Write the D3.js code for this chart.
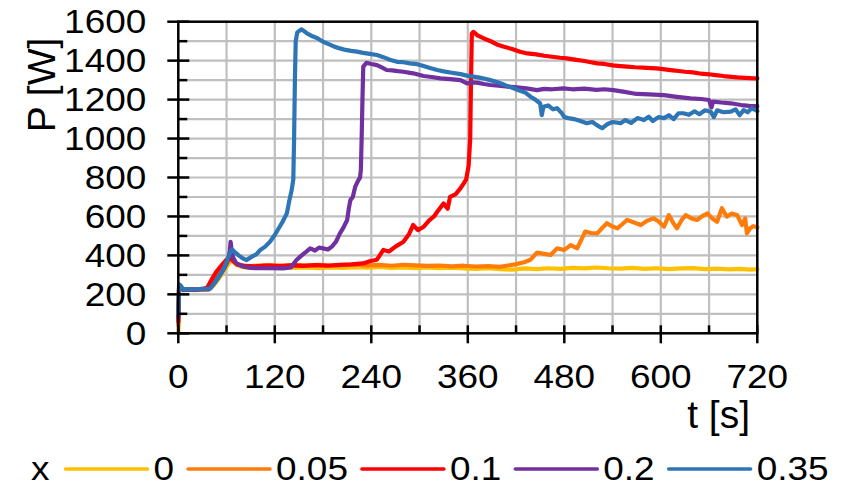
<!DOCTYPE html>
<html>
<head>
<meta charset="utf-8">
<script src="https://cdn.jsdelivr.net/npm/d3@7"></script>
<style>
  body { margin: 0; background: #fff; }
  svg text { font-family: Arial, "Liberation Sans", sans-serif; fill: #000; }
</style>
</head>
<body>
<svg id="chart" width="851" height="487"></svg>
<script>
// legend keys (x fraction) and colours
var series = ["0", "0.05", "0.1", "0.2", "0.35"];
var colors = ["#ffc000", "#ff7c0a", "#ff0000", "#7030a0", "#2e75b6"];

// axis ticks
var tTicks = [0, 120, 240, 360, 480, 600, 720];
var pTicks = [0, 200, 400, 600, 800, 1000, 1200, 1400, 1600];

// [t (s), P (W)]
var powerX0 = [[0,0],[1,230],[3,240],[6,222],[12,224],[20,222],[30,224],[38,226],[45,250],[52,290],[58,330],[63,360],[67,375],[72,352],[80,340],[90,336],[100,338],[115,335],[130,340],[145,336],[160,338],[175,335],[190,339],[205,336],[220,340],[235,337],[250,341],[265,336],[280,339],[295,335],[310,338],[325,334],[340,337],[355,333],[370,331],[385,334],[400,329],[415,327],[430,333],[445,330],[460,334],[475,331],[490,336],[505,333],[520,338],[535,334],[550,332],[565,336],[580,331],[595,334],[610,330],[625,333],[640,335],[655,330],[670,332],[685,328],[700,331],[710,327],[720,329]];

var powerX005 = [[0,40],[1,240],[3,235],[6,222],[12,224],[20,223],[30,225],[38,228],[45,265],[52,310],[58,345],[63,372],[67,380],[72,358],[80,348],[90,345],[100,348],[115,350],[130,346],[145,351],[160,348],[175,352],[190,347],[205,350],[220,353],[235,348],[250,351],[265,347],[280,352],[295,349],[310,346],[325,348],[340,344],[355,347],[370,343],[385,345],[400,341],[410,348],[420,355],[430,365],[438,378],[446,414],[455,408],[463,402],[471,436],[480,428],[488,453],[496,436],[506,522],[513,515],[521,513],[527,540],[533,565],[540,548],[546,539],[552,560],[558,582],[566,570],[575,556],[583,578],[591,590],[597,575],[604,547],[610,607],[615,570],[620,539],[626,582],[631,607],[638,590],[645,582],[651,600],[658,616],[664,590],[670,573],[676,642],[682,599],[688,615],[695,607],[701,556],[705,590],[707,513],[711,539],[715,550],[720,544]];

var powerX01 = [[0,60],[1,250],[3,240],[6,223],[12,225],[20,224],[30,228],[36,235],[42,280],[48,320],[54,350],[60,378],[64,390],[68,372],[74,352],[82,346],[95,344],[110,348],[125,345],[140,349],[155,346],[170,350],[185,347],[200,351],[215,354],[230,359],[238,370],[247,378],[255,428],[262,420],[270,445],[280,470],[287,510],[292,556],[298,530],[305,547],[312,580],[318,600],[322,624],[330,667],[335,640],[338,701],[345,715],[350,740],[355,770],[358,790],[361,860],[363,1000],[364,1300],[365,1540],[367,1548],[372,1530],[380,1514],[390,1497],[398,1480],[405,1471],[415,1460],[425,1446],[434,1437],[445,1432],[455,1425],[465,1420],[475,1415],[483,1412],[495,1404],[505,1398],[513,1392],[521,1386],[530,1383],[540,1376],[550,1372],[558,1369],[568,1366],[578,1364],[588,1362],[595,1360],[605,1355],[615,1350],[622,1347],[630,1343],[640,1340],[650,1333],[660,1330],[668,1326],[678,1321],[688,1317],[695,1314],[705,1312],[712,1310],[720,1309]];

var powerX02 = [[0,80],[1,240],[3,235],[6,224],[12,226],[20,224],[30,227],[38,226],[45,260],[52,300],[58,340],[62,380],[64,420],[65,470],[66,440],[68,390],[72,360],[80,343],[90,336],[100,334],[115,335],[130,333],[140,338],[147,376],[152,395],[158,415],[164,436],[170,425],[175,440],[180,436],[186,430],[191,445],[196,470],[201,513],[205,540],[210,582],[212,640],[214,684],[217,700],[220,753],[222,770],[224,787],[226,800],[227,838],[228,1000],[229,1200],[230,1369],[234,1389],[240,1383],[247,1377],[253,1365],[259,1352],[266,1350],[273,1346],[280,1343],[292,1335],[305,1321],[315,1316],[326,1309],[338,1305],[351,1300],[359,1283],[366,1288],[373,1286],[380,1280],[388,1275],[398,1272],[410,1267],[421,1263],[433,1258],[446,1249],[455,1255],[465,1253],[479,1258],[490,1253],[505,1256],[520,1250],[530,1253],[541,1249],[555,1240],[570,1229],[585,1227],[604,1223],[620,1214],[637,1206],[650,1203],[660,1198],[663,1160],[665,1190],[675,1185],[687,1181],[700,1172],[710,1168],[720,1166]];

var powerX035 = [[0,100],[1,250],[3,245],[6,225],[12,227],[20,225],[30,228],[40,230],[48,275],[55,320],[60,365],[63,400],[65,420],[67,430],[70,418],[75,400],[80,385],[85,376],[92,395],[97,405],[102,428],[108,445],[114,470],[120,505],[126,547],[130,575],[135,616],[138,680],[141,736],[143,790],[144,1000],[145,1300],[146,1500],[148,1545],[153,1561],[157,1550],[160,1540],[167,1525],[173,1515],[180,1497],[187,1485],[194,1472],[201,1463],[208,1455],[215,1450],[222,1446],[230,1440],[238,1435],[247,1429],[255,1418],[263,1405],[272,1394],[280,1392],[288,1386],[297,1382],[305,1372],[313,1362],[322,1352],[330,1345],[340,1338],[351,1331],[360,1322],[367,1318],[373,1314],[380,1308],[388,1300],[395,1292],[403,1280],[410,1268],[417,1258],[425,1245],[432,1235],[438,1215],[444,1200],[450,1180],[452,1120],[454,1163],[460,1170],[466,1150],[471,1156],[477,1130],[480,1110],[485,1105],[492,1100],[500,1090],[508,1079],[515,1085],[520,1070],[527,1053],[534,1075],[540,1085],[550,1079],[556,1095],[563,1080],[571,1105],[579,1095],[585,1112],[590,1090],[597,1110],[604,1105],[610,1120],[616,1100],[622,1130],[628,1130],[635,1122],[642,1140],[648,1125],[655,1145],[662,1138],[666,1110],[670,1145],[678,1135],[687,1138],[693,1150],[698,1120],[703,1146],[708,1135],[713,1155],[718,1146],[720,1140]];

var allPower = [powerX0, powerX005, powerX01, powerX02, powerX035];

//plot area
var plot = {left: 178.3, right: 757.3, top: 21.7, bottom: 333.3};
var fontSize = 33;
var stretch = 1.12; // the reference glyphs are a bit wider than Liberation Sans

var svg = d3.select("#chart");

var x = d3.scaleLinear().domain([0, 720]).range([plot.left, plot.right]);
var y = d3.scaleLinear().domain([0, 1600]).range([plot.bottom, plot.top]);

//adds a horizontally stretched label, returns its drawn width
function label(g, str, px, py, anchor) {
	var t = g.append("text")
		.text(str)
		.attr("transform", "translate(" + px + "," + py + ") scale(" + stretch + ",1)")
		.attr("text-anchor", anchor)
		.attr("font-size", fontSize);
	return t.node().getComputedTextLength() * stretch;
}

//grid lines every 60 s and 100 W
var grid = svg.append("g").attr("class", "grid")
	.attr("stroke", "#bfbfbf")
	.attr("stroke-width", 2.2);

grid.selectAll("line.v")
	.data(d3.range(60, 720, 60))
	.enter().append("line")
	.attr("class", "v")
	.attr("x1", function(d) {return x(d);})
	.attr("x2", function(d) {return x(d);})
	.attr("y1", plot.top)
	.attr("y2", plot.bottom);

grid.selectAll("line.h")
	.data(d3.range(100, 1600, 100))
	.enter().append("line")
	.attr("class", "h")
	.attr("x1", plot.left)
	.attr("x2", plot.right)
	.attr("y1", function(d) {return y(d);})
	.attr("y2", function(d) {return y(d);});

//series lines
var line = d3.line()
	.x(function(d) {return x(d[0]);})
	.y(function(d) {return y(d[1]);});

svg.append("g").attr("class", "series")
	.selectAll("path")
	.data(allPower)
	.enter().append("path")
	.attr("d", line)
	.attr("fill", "none")
	.attr("stroke", function(d, i) {return colors[i];})
	.attr("stroke-width", 4.2)
	.attr("stroke-linejoin", "round")
	.attr("stroke-linecap", "round");

//frame
svg.append("rect")
	.attr("x", plot.left)
	.attr("y", plot.top)
	.attr("width", plot.right - plot.left)
	.attr("height", plot.bottom - plot.top)
	.attr("fill", "none")
	.attr("stroke", "#000")
	.attr("stroke-width", 2.5);

//y axis: major ticks cross the axis, minor ticks only inside
var yAxis = svg.append("g").attr("class", "y-axis").attr("stroke", "#000").attr("stroke-width", 2.5);
yAxis.selectAll("line.major")
	.data(pTicks)
	.enter().append("line")
	.attr("x1", plot.left - 11).attr("x2", plot.left + 11)
	.attr("y1", function(d) {return y(d);})
	.attr("y2", function(d) {return y(d);});
yAxis.selectAll("line.minor")
	.data(d3.range(100, 1600, 200))
	.enter().append("line")
	.attr("x1", plot.left).attr("x2", plot.left + 9)
	.attr("y1", function(d) {return y(d);})
	.attr("y2", function(d) {return y(d);});

var yLabels = svg.append("g").attr("class", "y-labels");
pTicks.forEach(function(d) {
	label(yLabels, d, plot.left - 32, y(d) + 11.5, "end");
});

//x axis
var xAxis = svg.append("g").attr("class", "x-axis").attr("stroke", "#000").attr("stroke-width", 2.5);
xAxis.selectAll("line.major")
	.data(tTicks)
	.enter().append("line")
	.attr("y1", plot.bottom - 8).attr("y2", plot.bottom + 10)
	.attr("x1", function(d) {return x(d);})
	.attr("x2", function(d) {return x(d);});
xAxis.selectAll("line.minor")
	.data(d3.range(60, 720, 120))
	.enter().append("line")
	.attr("y1", plot.bottom - 8).attr("y2", plot.bottom)
	.attr("x1", function(d) {return x(d);})
	.attr("x2", function(d) {return x(d);});

var xLabels = svg.append("g").attr("class", "x-labels");
tTicks.forEach(function(d) {
	label(xLabels, d, x(d), 388, "middle");
});

//axis titles
svg.append("text")
	.text("P [W]")
	.attr("transform", "translate(55,85) rotate(-90)")
	.attr("text-anchor", "middle")
	.attr("font-size", 39);

svg.append("text")
	.text("t [s]")
	.attr("x", 750)
	.attr("y", 428)
	.attr("text-anchor", "end")
	.attr("font-size", 39);

//legend
var legend = svg.append("g").attr("class", "legend");
var legY = 469;
var cursor = 31 + label(legend, "x", 31, legY + 11, "start") + 16;

series.forEach(function(s, i) {
	legend.append("line")
		.attr("x1", cursor).attr("x2", cursor + 82)
		.attr("y1", legY).attr("y2", legY)
		.attr("stroke", colors[i])
		.attr("stroke-width", 3.5)
		.attr("stroke-linecap", "round");
	var w = label(legend, s, cursor + 88, legY + 11, "start");
	cursor = cursor + 88 + w + 14;
});
</script>
</body>
</html>
